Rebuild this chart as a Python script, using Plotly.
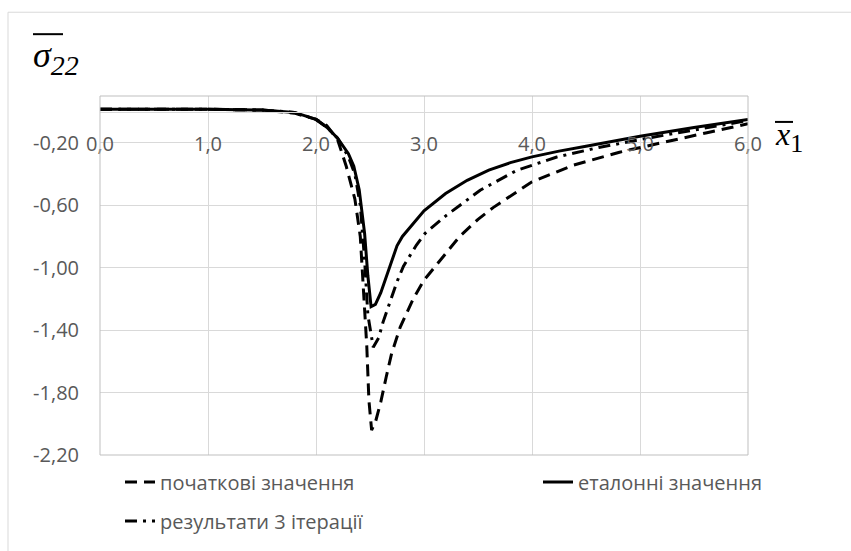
import plotly.graph_objects as go

# ---------------- data ----------------
x_initial = [0, 0.5, 1.0, 1.5, 1.8, 2.0, 2.1, 2.2, 2.28, 2.36, 2.41, 2.44, 2.47, 2.49, 2.515,
             2.55, 2.6, 2.65, 2.7, 2.78, 2.9, 3.0, 3.15, 3.33, 3.5, 3.64, 4.0, 4.38, 4.81, 5.25, 5.62, 6.0]
y_initial = [0.015, 0.015, 0.015, 0.01, -0.01, -0.05, -0.09, -0.18, -0.35, -0.56, -0.8, -1.15, -1.5, -1.85, -2.04,
             -1.99, -1.86, -1.70, -1.55, -1.38, -1.2, -1.08, -0.95, -0.80, -0.69, -0.615, -0.45, -0.344, -0.26, -0.19, -0.135, -0.078]

x_reference = [0, 0.5, 1.0, 1.5, 1.8, 2.0, 2.1, 2.2, 2.3, 2.35, 2.4, 2.45, 2.48, 2.51, 2.55,
               2.6, 2.65, 2.7, 2.75, 2.8, 2.9, 3.0, 3.2, 3.4, 3.6, 3.8, 4.0, 4.25, 4.5, 4.75, 5.0, 5.5, 6.0]
y_reference = [0.015, 0.015, 0.015, 0.01, -0.005, -0.05, -0.1, -0.17, -0.27, -0.35, -0.5, -0.78, -1.05, -1.25, -1.235,
               -1.16, -1.06, -0.95, -0.86, -0.8, -0.72, -0.635, -0.525, -0.44, -0.375, -0.327, -0.29, -0.253, -0.222,
               -0.19, -0.158, -0.102, -0.05]

x_iter3 = [0, 0.5, 1.0, 1.5, 1.8, 2.0, 2.1, 2.2, 2.3, 2.36, 2.41, 2.45, 2.48, 2.53, 2.58,
           2.62, 2.7, 2.75, 2.81, 2.93, 3.01, 3.21, 3.52, 3.86, 4.23, 4.63, 5.12, 5.56, 6.0]
y_iter3 = [0.015, 0.015, 0.015, 0.01, -0.005, -0.05, -0.1, -0.17, -0.29, -0.4, -0.6, -0.95, -1.3, -1.51, -1.45,
           -1.35, -1.19, -1.09, -0.99, -0.855, -0.78, -0.663, -0.504, -0.376, -0.291, -0.228, -0.164, -0.11, -0.057]

names = ["початкові значення", "еталонні значення", "результати 3 ітерації"]

x_ticks = [0, 1, 2, 3, 4, 5, 6]
x_tick_text = ["0,0", "1,0", "2,0", "3,0", "4,0", "5,0", "6,0"]
y_ticks = [-2.2, -1.8, -1.4, -1.0, -0.6, -0.2]
y_tick_text = ["-2,20", "-1,80", "-1,40", "-1,00", "-0,60", "-0,20"]

# ---------------- figure ----------------
W, H = 851, 551
ML, MR, MT, MB = 100, 103, 96, 95
PW, PH = W - ML - MR, H - MT - MB


def px(xp):
    return (xp - ML) / PW


def py(yp):
    return (H - MB - yp) / PH


fig = go.Figure()
fig.add_trace(go.Scatter(x=x_initial, y=y_initial, mode="lines", name=names[0],
                         line=dict(color="black", width=3, dash="12px,7px"),
                         legend="legend"))
fig.add_trace(go.Scatter(x=x_reference, y=y_reference, mode="lines", name=names[1],
                         line=dict(color="black", width=3), legend="legend3"))
fig.add_trace(go.Scatter(x=x_iter3, y=y_iter3, mode="lines", name=names[2],
                         line=dict(color="black", width=3, dash="12px,6px,3px,6px"),
                         legend="legend2"))

sans = "Open Sans, Liberation Sans, sans-serif"
tick_font = dict(family=sans, size=20, color="#595959")
leg_font = dict(family=sans, size=20, color="#595959")

fig.update_layout(
    width=W, height=H, autosize=False,
    margin=dict(l=ML, r=MR, t=MT, b=MB),
    paper_bgcolor="white", plot_bgcolor="white",
    xaxis=dict(range=[0, 6], tickvals=x_ticks, ticktext=x_tick_text,
               showgrid=True, gridcolor="#d9d9d9", gridwidth=1, zeroline=False,
               anchor="free", position=2.2 / 2.3, showline=True, linecolor="#d9d9d9",
               linewidth=1, ticks="", ticklabelstandoff=14, tickfont=tick_font),
    yaxis=dict(range=[-2.2, 0.1], tickvals=y_ticks, ticktext=y_tick_text,
               showgrid=True, gridcolor="#d9d9d9", gridwidth=1, zeroline=False,
               showline=False, ticks="", ticklabelstandoff=20, tickfont=tick_font),
    legend=dict(orientation="h", x=px(120), xanchor="left", y=py(482), yanchor="middle",
                font=leg_font, bgcolor="rgba(0,0,0,0)"),
    legend3=dict(orientation="h", x=px(538), xanchor="left", y=py(482), yanchor="middle",
                 font=leg_font, bgcolor="rgba(0,0,0,0)"),
    legend2=dict(orientation="h", x=px(120), xanchor="left", y=py(521), yanchor="middle",
                 font=leg_font, bgcolor="rgba(0,0,0,0)"),
    showlegend=True,
)

# plot area border and chart border
fig.add_shape(type="rect", xref="paper", yref="paper", x0=0, x1=1, y0=0, y1=1,
              line=dict(color="#bfbfbf", width=1), layer="above")
fig.add_shape(type="rect", xref="paper", yref="paper", x0=px(8), x1=px(858), y0=py(12), y1=py(600),
              line=dict(color="#d9d9d9", width=1), layer="below")

# axis titles
serif = "Liberation Serif, DejaVu Serif, serif"
fig.add_annotation(xref="paper", yref="paper", x=px(31), y=py(58), xanchor="left", yanchor="middle",
                   text="<i>σ<sub><span style='font-size:28px'>22</span></sub></i>",
                   showarrow=False, font=dict(family=serif, size=36, color="black"))
fig.add_shape(type="line", xref="paper", yref="paper", x0=px(33), x1=px(63), y0=py(34), y1=py(34),
              line=dict(color="black", width=2))
fig.add_annotation(xref="paper", yref="paper", x=px(773), y=py(137), xanchor="left", yanchor="middle",
                   text="<i>x</i><sub><span style='font-size:26px'>1</span></sub>",
                   showarrow=False, font=dict(family=serif, size=32, color="black"))
fig.add_shape(type="line", xref="paper", yref="paper", x0=px(775), x1=px(793), y0=py(122), y1=py(122),
              line=dict(color="black", width=2))

fig.write_html("out.html")
